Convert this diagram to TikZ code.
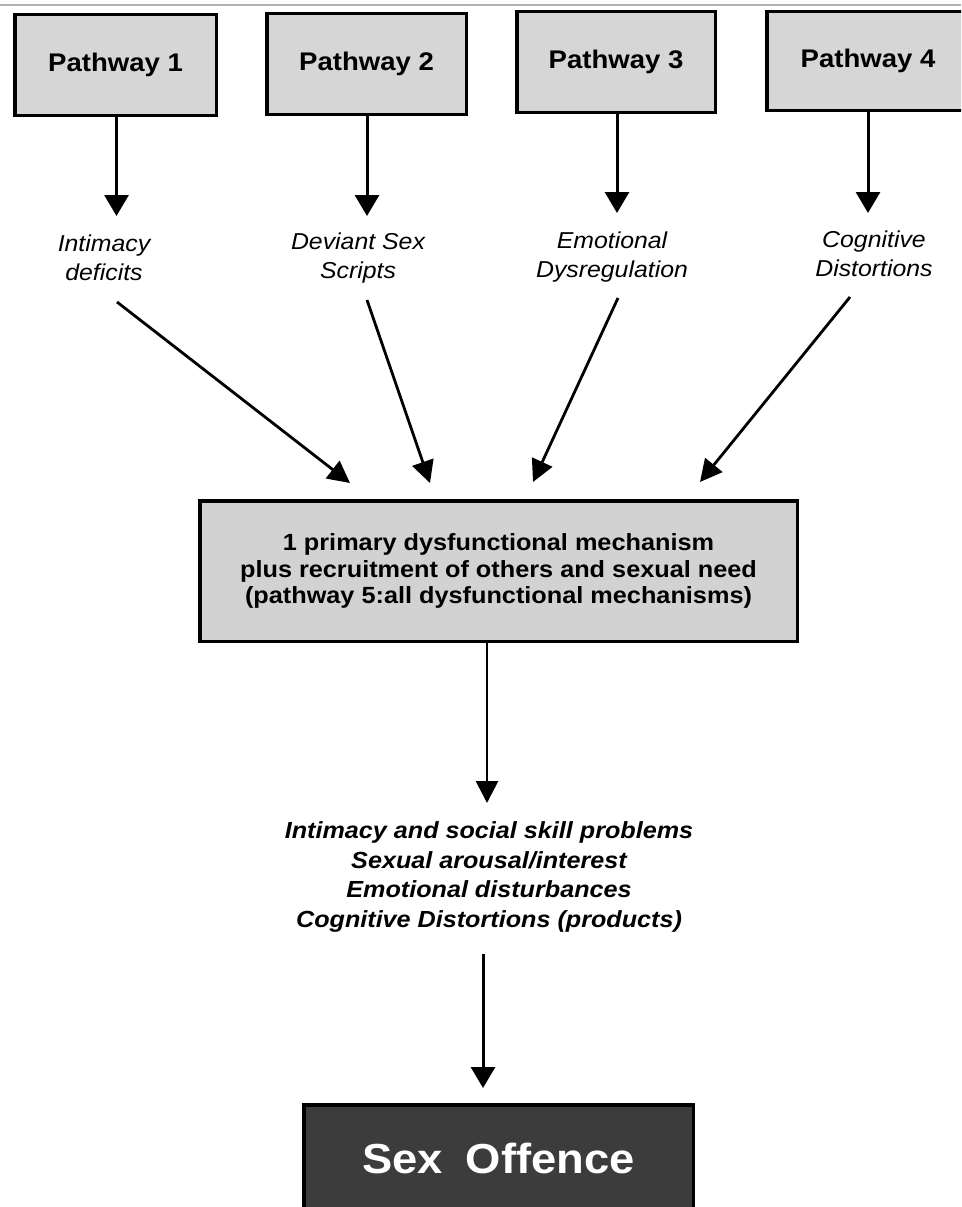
\documentclass[tikz,border=0pt]{standalone}
\usepackage{fontspec}
\setmainfont{Liberation Sans}[FakeStretch=1.08]
\usetikzlibrary{arrows.meta}
\definecolor{boxgray}{HTML}{D6D6D6}
\definecolor{midgray}{HTML}{D2D2D2}
\definecolor{darkbox}{HTML}{3C3C3C}
\begin{document}
\begin{tikzpicture}[x=1pt,y=-1pt,
  pbox/.style={draw=black,line width=3.5pt,fill=boxgray,inner sep=0pt,
    font=\fontsize{25.5}{30}\selectfont\bfseries},
  lab/.style={inner sep=0pt,align=center,font=\fontsize{23}{28.5}\selectfont\itshape},
  varr/.style={line width=3pt,-{Triangle[length=21pt,width=24pt]}},
  darr/.style={line width=2.8pt,-{Triangle[length=22pt,width=22pt]}},
]
\useasboundingbox (0,0) rectangle (961,1207);
\clip (0,0) rectangle (961,1207);
\fill[white] (0,0) rectangle (961,1207);
% top scan line
\draw[gray!60,line width=2pt] (0,5) -- (961,5);

% pathway boxes
\node[pbox,minimum width=201.5pt,minimum height=100.5pt] (b1) at (115.5,65) {Pathway 1};
\node[pbox,minimum width=199.5pt,minimum height=100.5pt] (b2) at (366.5,64) {Pathway 2};
\node[pbox,minimum width=198.5pt,minimum height=100.5pt] (b3) at (616,62) {Pathway 3};
\node[pbox,minimum width=202.5pt,minimum height=98.5pt] (b4) at (868,61) {Pathway 4};

% labels
\node[lab] (l1) at (104,258) {Intimacy\\deficits};
\node[lab] (l2) at (358,258) {Deviant Sex\\Scripts};
\node[lab] (l3) at (612,257) {Emotional\\Dysregulation};
\node[lab] (l4) at (874,254) {Cognitive\\Distortions};

% vertical arrow tips
\coordinate (t1) at (116.5,216);
\coordinate (t2) at (367,216);
\coordinate (t3) at (617,213);
\coordinate (t4) at (868,213);
\draw[varr] (b1.south -| t1) -- (t1);
\draw[varr] (b2.south -| t2) -- (t2);
\draw[varr] (b3.south -| t3) -- (t3);
\draw[varr] (b4.south -| t4) -- (t4);

% middle box
\node[draw=black,line width=3.5pt,fill=midgray,inner sep=0pt,
  minimum width=597.5pt,minimum height=140.5pt,align=center,
  font=\fontsize{23.4}{26.6}\selectfont\bfseries] (mid) at (498.5,571)
  {1 primary dysfunctional mechanism\\plus recruitment of others and sexual need\\(pathway 5:all dysfunctional mechanisms)};

% diagonal arrows
\coordinate (s1) at (117,302);
\coordinate (s2) at (367,300);
\coordinate (s3) at (618,298);
\coordinate (s4) at (850,297);
\coordinate (e1) at (350,483);
\coordinate (e2) at (430,483);
\coordinate (e3) at (533,482);
\coordinate (e4) at (700,482);
\draw[darr] (s1) -- (e1);
\draw[darr] (s2) -- (e2);
\draw[darr] (s3) -- (e3);
\draw[darr] (s4) -- (e4);

% products
\node[inner sep=0pt,align=center,font=\fontsize{23.3}{29.7}\selectfont\bfseries\itshape]
  (prod) at (489,877)
  {Intimacy and social skill problems\\Sexual arousal/interest\\Emotional disturbances\\Cognitive Distortions (products)};

\coordinate (m1) at (487,643);
\coordinate (m2) at (487,803);
\draw[darr] (m1) -- (m2);

% offence box
\node[draw=black,line width=3.5pt,fill=darkbox,text=white,inner sep=0pt,
  minimum width=389.5pt,minimum height=110pt,
  font=\fontsize{42}{50}\selectfont\bfseries] (off) at (498.5,1160)
  {\raisebox{3pt}{Sex\hspace{0.55em}Offence}};

\coordinate (p1) at (483,954);
\coordinate (p2) at (483,1088);
\draw[varr] (p1) -- (p2);
\end{tikzpicture}
\end{document}
